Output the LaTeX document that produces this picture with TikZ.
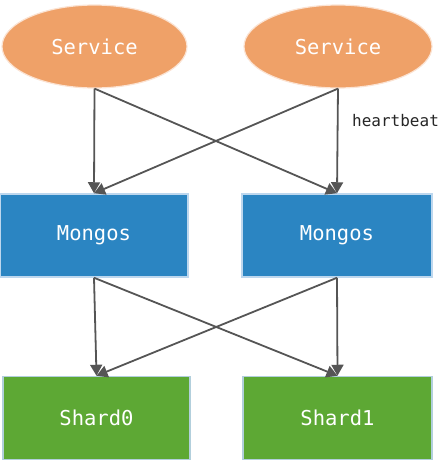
\documentclass[tikz,border=0pt]{standalone}
\usepackage{fontspec}
\setmonofont{DejaVu Sans Mono}
\usetikzlibrary{shapes.geometric,arrows.meta}

\definecolor{svcfill}{HTML}{EFA168}
\definecolor{svcedge}{HTML}{FBE3D3}
\definecolor{mongofill}{HTML}{2B85C2}
\definecolor{mongoedge}{HTML}{BDD7EE}
\definecolor{shardfill}{HTML}{5DA834}
\definecolor{shardedge}{HTML}{B2CFDC}
\definecolor{linkgray}{HTML}{555555}

\tikzset{
	service/.style={ellipse, fill=svcfill, draw=svcedge, line width=1.2pt, inner sep=0pt,
		minimum width=185pt, minimum height=83pt, text=white, font=\ttfamily\fontsize{20.5}{24}\selectfont},
	router/.style={rectangle, fill=mongofill, draw=mongoedge, line width=1.5pt, inner sep=0pt,
		minimum width=188pt, minimum height=83pt, text=white, font=\ttfamily\fontsize{20.5}{24}\selectfont},
	shardbox/.style={rectangle, fill=shardfill, draw=shardedge, line width=1.5pt, inner sep=0pt,
		minimum width=187pt, minimum height=83pt, text=white, font=\ttfamily\fontsize{20.5}{24}\selectfont},
	link/.style={->, draw=linkgray, fill=linkgray, line width=1.8pt},
	>={Triangle[length=11pt,width=12pt]}
}

\begin{document}
\begin{tikzpicture}[x=10pt, y=-10pt]

		\useasboundingbox (0,0) rectangle (44.2,46.7);

		\node [service] (0) at (9.45, 4.65) {Service};
		\node [service, minimum width=188pt] (1) at (33.8, 4.65) {Service};
		\node [router] (2) at (9.4, 23.55) {Mongos};
		\node [router, minimum width=190pt] (3) at (33.7, 23.55) {Mongos};
		\node [shardbox] (4) at (9.65, 41.8) {Shard0};
		\node [shardbox, minimum width=189pt] (5) at (33.75, 41.8) {Shard1};
		\node [anchor=west, inner sep=0pt, text=black!85, font=\ttfamily\fontsize{16}{20}\selectfont] (6) at (35.2, 12.1) {heartbeat};

		\draw [link] (0.south) to (2.north);
		\draw [link] (0.south) to (3.north);
		\draw [link] (1.south) to (2.north);
		\draw [link] (1.south) to (3.north);
		\draw [link] (2.south) to (4.north);
		\draw [link] (2.south) to (5.north);
		\draw [link] (3.south) to (4.north);
		\draw [link] (3.south) to (5.north);
\end{tikzpicture}
\end{document}
